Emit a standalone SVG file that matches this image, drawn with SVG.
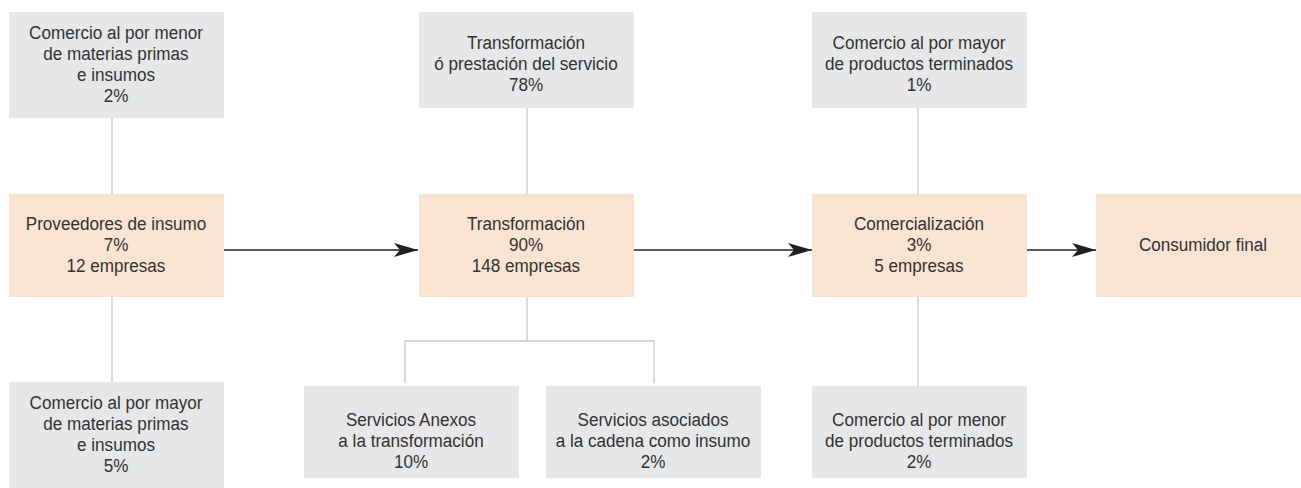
<svg xmlns="http://www.w3.org/2000/svg" width="1301" height="488" viewBox="0 0 1301 488">
<style>
.g{fill:#e6e7e8}
.p{fill:#f9e4d2}
.t{font-family:"Liberation Sans",Arial,sans-serif;font-size:19px;fill:#333132;text-anchor:middle}
.c{stroke:#c9c9c9;stroke-width:1.3;fill:none}
.a{stroke:#231f20;stroke-width:1.6;fill:none}
</style>
<defs>
<marker id="ah" markerUnits="userSpaceOnUse" markerWidth="26" markerHeight="16" refX="24" refY="7" orient="auto" viewBox="0 0 26 16">
<path d="M0,0 L24,7 L0,14 L6,7 Z" fill="#231f20"/>
</marker>
</defs>
<g id="connectors">
<line class="c" x1="112" y1="118" x2="112" y2="194"/>
<line class="c" x1="112" y1="297" x2="112" y2="382"/>
<line class="c" x1="527" y1="108" x2="527" y2="194"/>
<polyline class="c" points="527,297 527,341"/>
<polyline class="c" points="405,383 405,341 654,341 654,383"/>
<line class="c" x1="918" y1="108" x2="918" y2="194"/>
<line class="c" x1="918" y1="297" x2="918" y2="386"/>
<line class="a" x1="224" y1="250" x2="418" y2="250" marker-end="url(#ah)"/>
<line class="a" x1="634" y1="250" x2="812" y2="250" marker-end="url(#ah)"/>
<line class="a" x1="1027" y1="250" x2="1096" y2="250" marker-end="url(#ah)"/>
</g>
<g id="n_menor_mp">
<rect class="g" x="9" y="12" width="215" height="106"/>
<g transform="translate(116 0) scale(0.9 1)">
<text class="t" x="0" y="39">Comercio al por menor</text>
<text class="t" x="0" y="60">de materias primas</text>
<text class="t" x="0" y="81">e insumos</text>
<text class="t" x="0" y="102">2%</text>
</g>
</g>
<g id="n_proveedores">
<rect class="p" x="9" y="194" width="215" height="103"/>
<g transform="translate(116 0) scale(0.9 1)">
<text class="t" x="0" y="230">Proveedores de insumo</text>
<text class="t" x="0" y="251">7%</text>
<text class="t" x="0" y="272">12 empresas</text>
</g>
</g>
<g id="n_mayor_mp">
<rect class="g" x="9" y="382" width="215" height="106"/>
<g transform="translate(116 0) scale(0.9 1)">
<text class="t" x="0" y="409">Comercio al por mayor</text>
<text class="t" x="0" y="430">de materias primas</text>
<text class="t" x="0" y="451">e insumos</text>
<text class="t" x="0" y="472">5%</text>
</g>
</g>
<g id="n_transf_serv">
<rect class="g" x="419" y="12" width="215" height="96"/>
<g transform="translate(526 0) scale(0.9 1)">
<text class="t" x="0" y="49">Transformación</text>
<text class="t" x="0" y="70">ó prestación del servicio</text>
<text class="t" x="0" y="91">78%</text>
</g>
</g>
<g id="n_transformacion">
<rect class="p" x="419" y="194" width="215" height="103"/>
<g transform="translate(526 0) scale(0.9 1)">
<text class="t" x="0" y="230">Transformación</text>
<text class="t" x="0" y="251">90%</text>
<text class="t" x="0" y="272">148 empresas</text>
</g>
</g>
<g id="n_anexos">
<rect class="g" x="304" y="386" width="215" height="92"/>
<g transform="translate(411 0) scale(0.9 1)">
<text class="t" x="0" y="426">Servicios Anexos</text>
<text class="t" x="0" y="447">a la transformación</text>
<text class="t" x="0" y="468">10%</text>
</g>
</g>
<g id="n_asociados">
<rect class="g" x="546" y="386" width="215" height="92"/>
<g transform="translate(653 0) scale(0.9 1)">
<text class="t" x="0" y="426">Servicios asociados</text>
<text class="t" x="0" y="447">a la cadena como insumo</text>
<text class="t" x="0" y="468">2%</text>
</g>
</g>
<g id="n_mayor_pt">
<rect class="g" x="812" y="12" width="215" height="96"/>
<g transform="translate(919 0) scale(0.9 1)">
<text class="t" x="0" y="49">Comercio al por mayor</text>
<text class="t" x="0" y="70">de productos terminados</text>
<text class="t" x="0" y="91">1%</text>
</g>
</g>
<g id="n_comercializacion">
<rect class="p" x="812" y="194" width="215" height="103"/>
<g transform="translate(919 0) scale(0.9 1)">
<text class="t" x="0" y="230">Comercialización</text>
<text class="t" x="0" y="251">3%</text>
<text class="t" x="0" y="272">5 empresas</text>
</g>
</g>
<g id="n_menor_pt">
<rect class="g" x="812" y="386" width="215" height="92"/>
<g transform="translate(919 0) scale(0.9 1)">
<text class="t" x="0" y="426">Comercio al por menor</text>
<text class="t" x="0" y="447">de productos terminados</text>
<text class="t" x="0" y="468">2%</text>
</g>
</g>
<g id="n_consumidor">
<rect class="p" x="1096" y="194" width="205" height="103"/>
<g transform="translate(1203 0) scale(0.9 1)">
<text class="t" x="0" y="251">Consumidor final</text>
</g>
</g>
</svg>
